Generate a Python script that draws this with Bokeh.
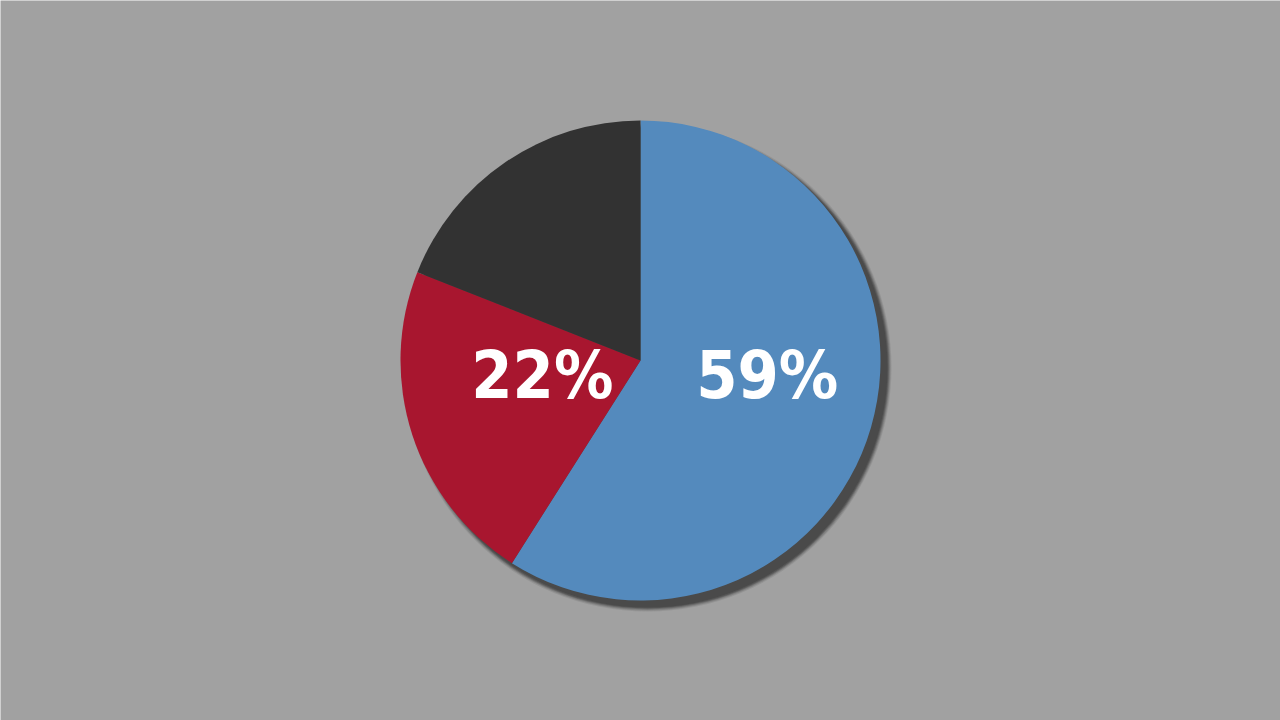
import math
from bokeh.plotting import figure
from bokeh.embed import file_html
from bokeh.resources import INLINE
from bokeh.core.properties import value
from bokeh.models import ColumnDataSource

# ---- data ----
categories = ["Blue", "Red", "Dark"]
shares = [59, 22, 19]
labels = ["59%", "22%", ""]
colors = ["#548abd", "#a8162f", "#323232"]
label_radius = [0.55, 0.43, 0.0]

BG = "#a1a1a1"
W, H = 1280, 720
CX, CY, R = 640, 360, 240

p = figure(width=W, height=H, x_range=(0, W), y_range=(0, H),
           output_backend="svg", toolbar_location=None, min_border=0)
p.axis.visible = False
p.grid.visible = False
p.outline_line_color = None
p.background_fill_color = BG
p.border_fill_color = BG

# shadow (soft)
for dr, a in [(4, 0.15), (3, 0.25), (2, 0.4), (1, 0.6)]:
    p.circle(x=[CX + 7], y=[CY - 7], radius=R + dr, fill_color="#4a4a4a",
             fill_alpha=a, line_color=None)
p.circle(x=[CX + 7], y=[CY - 7], radius=R, fill_color="#4a4a4a", line_color=None)

total = sum(shares)
starts, ends, lx, ly = [], [], [], []
ang = math.pi / 2
for s, lr in zip(shares, label_radius):
    e = ang - s / total * 2 * math.pi
    starts.append(e)
    ends.append(ang)
    mid = (ang + e) / 2
    lx.append(CX + lr * R * math.cos(mid))
    ly.append(CY - 15)
    ang = e

src = ColumnDataSource(dict(cat=categories, start=starts, end=ends, color=colors,
                            lx=lx, ly=ly, label=labels))
p.wedge(x=CX, y=CY, radius=R, start_angle="start", end_angle="end",
        fill_color="color", line_color=None, source=src)
p.text(x="lx", y="ly", text="label", source=src, text_color="white",
       text_font=value("DejaVu Sans Condensed"), text_font_style="bold",
       text_font_size="66px", text_align="center", text_baseline="middle")

html = file_html(p, INLINE)
html = html.replace("<body>", '<body style="background:%s;margin:0;overflow:hidden">' % BG, 1)
open("out.html", "w").write(html)
